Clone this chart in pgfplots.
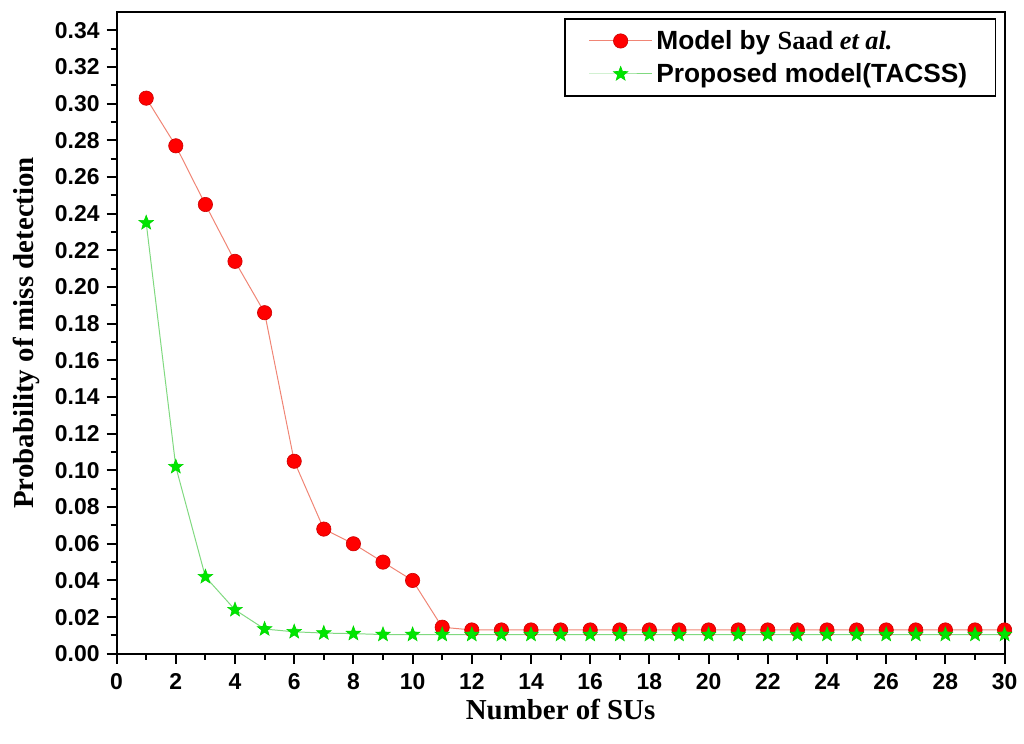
\documentclass[border=0pt]{standalone}
\usepackage{pgfplots}
\pgfplotsset{compat=1.18}
\usepackage{fontspec}
\setmainfont{Liberation Serif}
\setsansfont{Liberation Sans}
\pgfdeclareplotmark{fstar}{%
  \pgfpathmoveto{\pgfqpointpolar{90}{\pgfplotmarksize}}%
  \pgfpathlineto{\pgfqpointpolar{126}{0.42\pgfplotmarksize}}%
  \pgfpathlineto{\pgfqpointpolar{162}{\pgfplotmarksize}}%
  \pgfpathlineto{\pgfqpointpolar{198}{0.42\pgfplotmarksize}}%
  \pgfpathlineto{\pgfqpointpolar{234}{\pgfplotmarksize}}%
  \pgfpathlineto{\pgfqpointpolar{270}{0.42\pgfplotmarksize}}%
  \pgfpathlineto{\pgfqpointpolar{306}{\pgfplotmarksize}}%
  \pgfpathlineto{\pgfqpointpolar{342}{0.42\pgfplotmarksize}}%
  \pgfpathlineto{\pgfqpointpolar{18}{\pgfplotmarksize}}%
  \pgfpathlineto{\pgfqpointpolar{54}{0.42\pgfplotmarksize}}%
  \pgfpathclose
  \pgfusepathqfillstroke}
\begin{document}
\begin{tikzpicture}
\begin{axis}[
  name=ax,
  scale only axis, width=445.5pt, height=322pt,
  xmin=0, xmax=30, ymin=0, ymax=0.35,
  xtick={0,2,...,30}, ytick={0,0.02,...,0.341},
  minor x tick num=1, minor y tick num=1,
  tick pos=left, tick align=outside,
  major tick length=5pt, minor tick length=3pt,
  every tick/.style={black, line width=1pt},
  axis line style={line width=1pt},
  /pgf/number format/assume math mode=true,
  yticklabel style={/pgf/number format/.cd, fixed, fixed zerofill, precision=2},
  xticklabel style={yshift=-1.5pt},
  ticklabel style={font=\sffamily\bfseries\fontsize{11.5}{13}\selectfont},
  xlabel={\bfseries\fontsize{14.5}{16}\selectfont Number of SUs},
  ylabel={\bfseries\fontsize{14.5}{16}\selectfont Probability of miss detection},
  xlabel style={yshift=2.5pt},
  ylabel style={yshift=1pt},
  legend style={at={(0.99,0.99)}, anchor=north east, draw=black, line width=0.6pt,
    font=\sffamily\bfseries\fontsize{13.2}{15}\selectfont, row sep=1.5pt, inner xsep=12pt, inner ysep=3.5pt},
  legend cell align=left,
  legend image code/.code={%
    \draw[mark repeat=2,mark phase=2,#1] plot coordinates {(0cm,0cm) (0.55cm,0cm) (1.1cm,0cm)};},
]
\addplot[color=red!60!brown!60, line width=0.5pt, mark=*, mark size=3.6pt,
  mark options={fill=red, draw=red!80!black, line width=0.3pt}] coordinates {
(1,0.303)(2,0.277)(3,0.245)(4,0.214)(5,0.186)(6,0.105)(7,0.068)(8,0.060)(9,0.050)(10,0.040)
(11,0.0145)(12,0.013)(13,0.013)(14,0.013)(15,0.013)(16,0.013)(17,0.013)(18,0.013)(19,0.013)(20,0.013)
(21,0.013)(22,0.013)(23,0.013)(24,0.013)(25,0.013)(26,0.013)(27,0.013)(28,0.013)(29,0.013)(30,0.013)};
\addlegendentry{Model by {\rmfamily Saad \textit{et al.}}}
\addplot[color=green!70!black!50, line width=0.5pt, mark=fstar, mark size=3.8pt,
  mark options={draw=green!85!black, fill=green!90!black, line width=0.3pt}] coordinates {
(1,0.235)(2,0.102)(3,0.042)(4,0.024)(5,0.0135)(6,0.012)(7,0.0113)(8,0.011)(9,0.0105)(10,0.0105)
(11,0.0105)(12,0.0105)(13,0.0105)(14,0.0105)(15,0.0105)(16,0.0105)(17,0.0105)(18,0.0105)(19,0.0105)(20,0.0105)
(21,0.0105)(22,0.0105)(23,0.0105)(24,0.0105)(25,0.0105)(26,0.0105)(27,0.0105)(28,0.0105)(29,0.0105)(30,0.0105)};
\addlegendentry{Proposed model(TACSS)}
\end{axis}
\path[use as bounding box] ([shift={(-58.5pt,-45pt)}]ax.south west) rectangle ([shift={(8pt,6pt)}]ax.north east);
\end{tikzpicture}
\end{document}
